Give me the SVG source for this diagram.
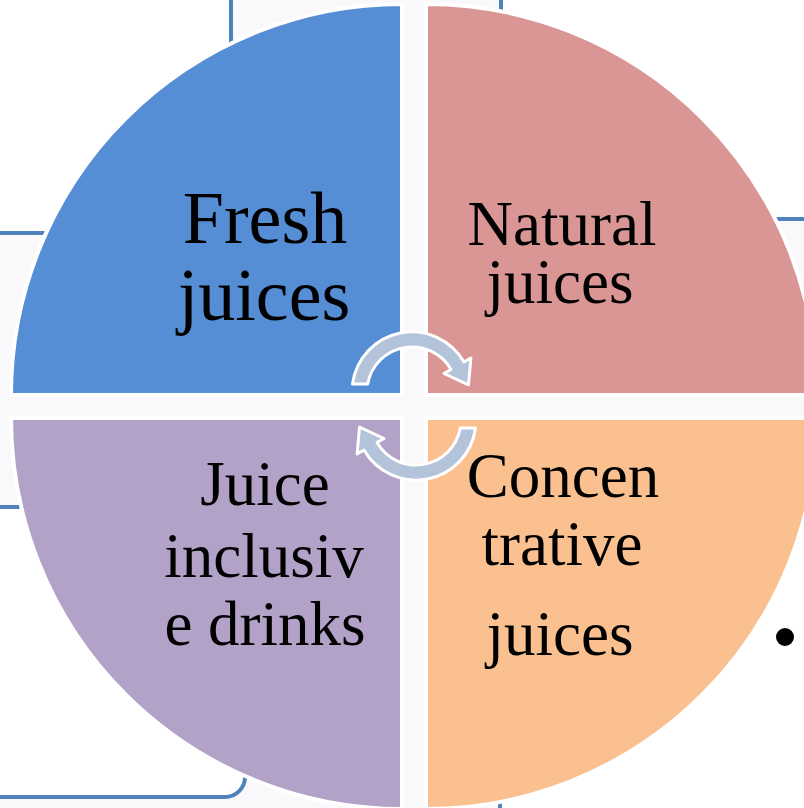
<svg xmlns="http://www.w3.org/2000/svg" width="804" height="808" viewBox="0 0 804 808">
<style>
.bg{fill:#ffffff;stroke:#4F81BD;stroke-width:4}
.q{stroke:#ffffff;stroke-width:4}
.t{font-family:"Liberation Serif","Times New Roman",serif;fill:#000000;text-anchor:middle}
.arr{fill:#B3C3DA;stroke:#ffffff;stroke-width:3;stroke-linejoin:round}
</style>
<defs>
<path id="cyc" d="M352.5,384 A60,60 0 0 1 464,362 L470.9,358 L468.5,384.8 L444,373.5 L451,369.5 A45,45 0 0 0 367.7,384 Z"/>
</defs>
<rect x="0" y="0" width="804" height="808" fill="#F9F8FB"/>
<g id="backdrop">
<rect class="bg" x="-60" y="-60" width="291" height="293" rx="20"/>
<rect class="bg" x="501" y="-60" width="400" height="279" rx="20"/>
<rect class="bg" x="-60" y="507" width="305" height="290" rx="20"/>
<rect class="bg" x="500" y="470" width="400" height="400" rx="20"/>
</g>
<g id="fresh">
<path class="q" fill="#558ED5" d="M402,395 L11,395 A391,391 0 0 1 402,4 Z"/>
<text class="t" font-size="74" x="265" y="243">Fresh</text>
<text class="t" font-size="74" x="264" y="320">juices</text>
</g>
<g id="natural">
<path class="q" fill="#D99694" d="M426,395 L426,4 A391,391 0 0 1 817,395 Z"/>
<text class="t" font-size="63" x="562" y="245">Natural</text>
<text class="t" font-size="63" x="560" y="303">juices</text>
</g>
<g id="inclusive">
<path class="q" fill="#B3A2C7" d="M402,418 L402,809 A391,391 0 0 1 11,418 Z"/>
<text class="t" font-size="63" x="265" y="505">Juice</text>
<text class="t" font-size="63" x="264" y="577">inclusiv</text>
<text class="t" font-size="63" x="265" y="645">e drinks</text>
</g>
<g id="concentrative">
<path class="q" fill="#FAC090" d="M426,418 L817,418 A391,391 0 0 1 426,809 Z"/>
<text class="t" font-size="63" x="563" y="497">Concen</text>
<text class="t" font-size="63" x="562" y="565">trative</text>
<text class="t" font-size="63" x="560" y="655">juices</text>
</g>
<g id="connectors">
<use href="#cyc" class="arr"/>
<use href="#cyc" class="arr" transform="rotate(180 414 406)"/>
</g>
<circle cx="785" cy="637" r="9" fill="#000000"/>
</svg>
